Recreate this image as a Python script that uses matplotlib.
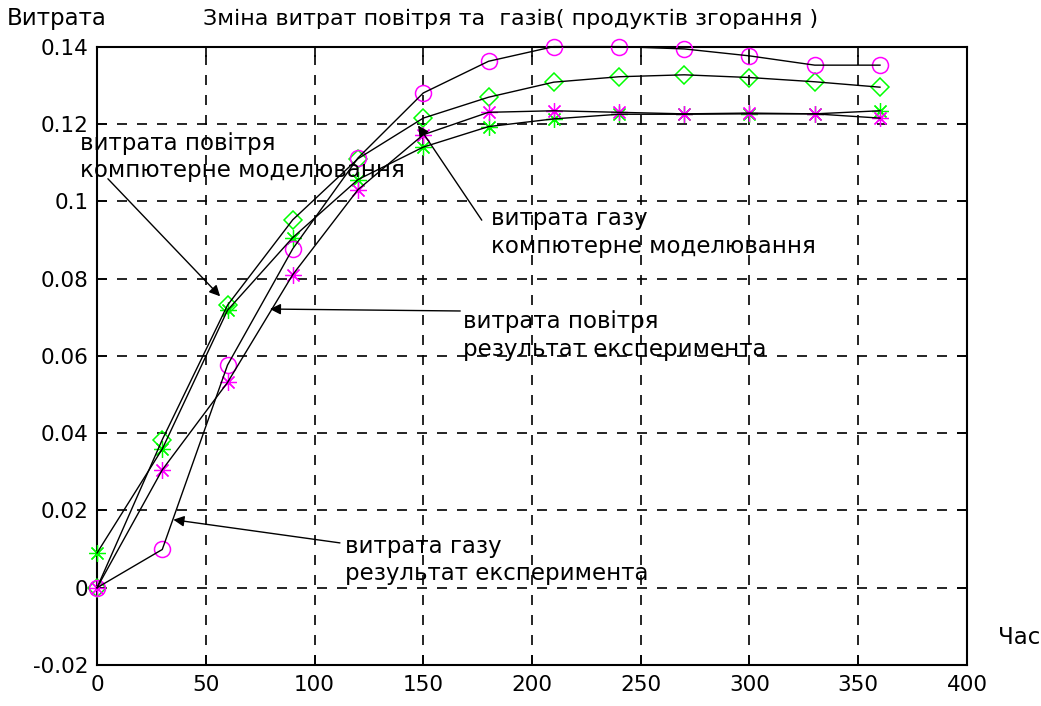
import numpy as np
import matplotlib
matplotlib.use("Agg")
import matplotlib.pyplot as plt

# --- Data ---
t = [0, 30, 60, 90, 120, 150, 180, 210, 240, 270, 300, 330, 360]

gas_exp = [0, 0.0099, 0.0576, 0.0877, 0.1112, 0.128, 0.1362, 0.140, 0.140, 0.1394, 0.1376, 0.1352, 0.1352]
gas_model = [0, 0.0383, 0.0731, 0.0952, 0.111, 0.1215, 0.1269, 0.1308, 0.1322, 0.1327, 0.132, 0.1309, 0.1295]
air_model = [0.009, 0.0359, 0.0718, 0.0906, 0.1056, 0.114, 0.1193, 0.1213, 0.1225, 0.1225, 0.1226, 0.1226, 0.1234]
air_exp = [0, 0.0305, 0.0531, 0.081, 0.103, 0.1172, 0.123, 0.1234, 0.123, 0.1226, 0.1228, 0.1226, 0.1215]

x_ticks = [0, 50, 100, 150, 200, 250, 300, 350, 400]
y_ticks = [-0.02, 0, 0.02, 0.04, 0.06, 0.08, 0.1, 0.12, 0.14]
y_tick_labels = ["-0.02", "0", "0.02", "0.04", "0.06", "0.08", "0.1", "0.12", "0.14"]

title = "Зміна витрат повітря та  газів( продуктів згорання )"

# annotation: text, text position, arrow start, arrow tip
notes = [
    ("витрата повітря\nкомпютерне моделювання", (-7.8, 0.1115), (5, 0.1058), (56.6, 0.0754)),
    ("витрата газу\nкомпютерне моделювання", (181.2, 0.0919), (176.9, 0.0951), (147.6, 0.1196)),
    ("витрата повітря\nрезультат експеримента", (168.3, 0.0652), (167, 0.0716), (79.5, 0.0721)),
    ("витрата газу\nрезультат експеримента", (114, 0.0072), (111.7, 0.0116), (35.1, 0.0176)),
]

plt.rcParams['font.family'] = ['DejaVu Sans']

fig = plt.figure(figsize=(10.41, 7.06), dpi=100)
ax = fig.add_axes([0.0932, 0.058, 0.8357, 0.876])

green = "#00ff00"
magenta = "#ff00ff"
star = (8, 2, 0)

# --- Markers (not clipped, like the original) ---
ax.plot(t, gas_model, linestyle="none", marker="D", ms=9, mfc="none", mec=green, mew=1.1, zorder=3, clip_on=False)
ax.plot(t, air_model, linestyle="none", marker=star, ms=12, mec=green, mew=0.9, zorder=3, clip_on=False)
ax.plot(t, gas_exp, linestyle="none", marker="o", ms=11.5, mfc="none", mec=magenta, mew=1.1, zorder=4, clip_on=False)
ax.plot(t, air_exp, linestyle="none", marker=star, ms=12, mec=magenta, mew=0.9, zorder=4, clip_on=False)

# --- Lines ---
for y in [gas_exp, gas_model, air_model, air_exp]:
    ax.plot(t, y, color="k", lw=1.0, zorder=5, clip_on=False)

ax.set_xlim(0, 400)
ax.set_ylim(-0.02, 0.14)
ax.set_xticks(x_ticks)
ax.set_yticks(y_ticks)
ax.set_yticklabels(y_tick_labels)
ax.tick_params(direction="in", top=True, right=True, length=7, width=1.2,
               labelsize=15.5, colors="k")
ax.tick_params(axis="x", pad=7)
ax.tick_params(axis="y", pad=6)
ax.grid(True, color="k", linestyle=(0, (6, 6)), linewidth=1.2)
for s in ax.spines.values():
    s.set_linewidth(1.5)

# --- Annotations ---
for text, pos, start, tip in notes:
    ax.annotate("", xy=tip, xytext=start,
                arrowprops=dict(arrowstyle="-|>", color="k", lw=1.0, mutation_scale=16,
                                shrinkA=0, shrinkB=0), zorder=6)
    ax.text(pos[0], pos[1], text, ha="left", va="center", fontsize=16.5,
            linespacing=1.25, clip_on=False, zorder=6)

fig.text(203 / 1041, 1 - 19 / 706, title, ha="left", va="center", fontsize=16)
fig.text(7 / 1041, 1 - 19 / 706, "Витрата", ha="left", va="center", fontsize=16.5)
fig.text(998 / 1041, 1 - 638 / 706, "Час", ha="left", va="center", fontsize=16.5)

fig.savefig("out.png", dpi=100)
